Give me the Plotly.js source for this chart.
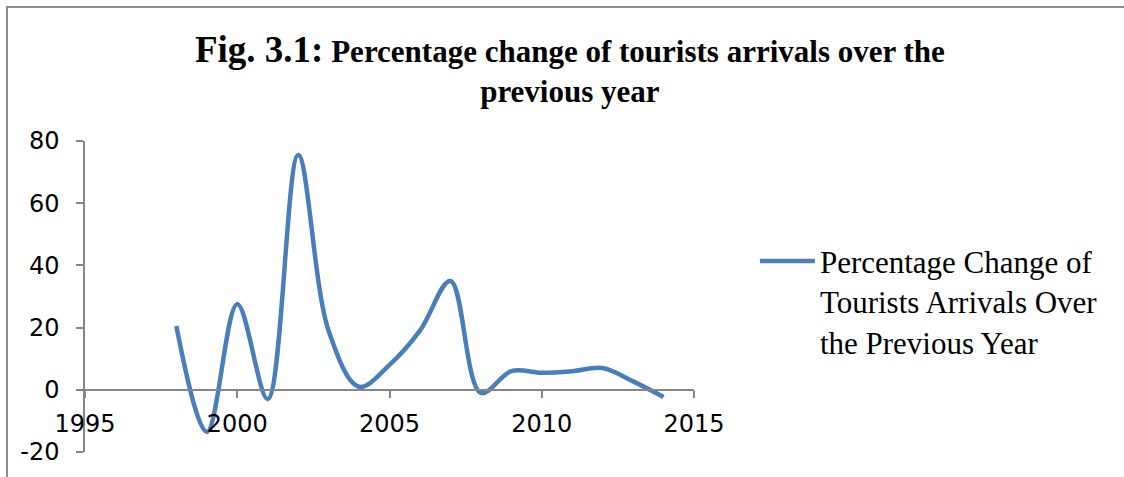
<!DOCTYPE html>
<html>
<head>
<meta charset="utf-8">
<script src="https://cdn.plot.ly/plotly-3.0.1.min.js"></script>
<style>
  html, body { margin: 0; padding: 0; background: #ffffff; }
  #chart { width: 1124px; height: 477px; }
</style>
</head>
<body>
<div id="chart"></div>
<script>
// Data
const years = [1998, 1999, 2000, 2001, 2002, 2003, 2004, 2005, 2006, 2007, 2008, 2009, 2010, 2011, 2012, 2013, 2014];
const pctChange = [20.5, -13.5, 27.5, -3, 75.5, 19, 1, 8, 19, 35, -1, 6, 5.5, 6, 7, 2.7, -2.3];
const seriesName = "Percentage Change of<br>Tourists Arrivals Over<br>the Previous Year";
const xTicks = [1995, 2000, 2005, 2010, 2015];
const yTicks = [-20, 0, 20, 40, 60, 80];
const titleLead = "Fig. 3.1:";
const titleRest = "Percentage change of tourists arrivals over the<br>previous year";

const axisGrey = "#868686";

const trace = {
  x: years,
  y: pctChange,
  type: "scatter",
  mode: "lines",
  name: seriesName,
  line: { color: "#4A7EBB", width: 4.5, shape: "spline", smoothing: 1 },
  hoverinfo: "x+y"
};

const layout = {
  width: 1124,
  height: 477,
  margin: { l: 85, r: 430, t: 141, b: 25, pad: 0 },
  paper_bgcolor: "#ffffff",
  plot_bgcolor: "#ffffff",
  showlegend: true,
  title: {
    text: "<span style='font-size:37px'>" + titleLead + "</span> " + titleRest,
    font: { family: "Liberation Serif, Times New Roman, serif", size: 31, color: "#000000", weight: "bold" },
    x: 0.507,
    xanchor: "center",
    xref: "container",
    y: 1 - 62 / 477,
    yanchor: "top",
    yref: "container"
  },
  xaxis: {
    range: [1995, 2015],
    tickvals: xTicks,
    ticktext: xTicks.map(String),
    showgrid: false,
    zeroline: false,
    showline: true,
    linecolor: axisGrey,
    linewidth: 1.5,
    ticks: "outside",
    ticklen: 7,
    tickwidth: 1.5,
    tickcolor: axisGrey,
    ticklabelstandoff: 6,
    anchor: "free",
    position: 0.2,
    tickfont: { family: "DejaVu Sans, sans-serif", size: 24, color: "#000000" },
    fixedrange: true
  },
  yaxis: {
    range: [-20, 80],
    tickvals: yTicks,
    ticktext: yTicks.map(String),
    showgrid: false,
    zeroline: false,
    showline: true,
    linecolor: axisGrey,
    linewidth: 1.5,
    ticks: "outside",
    ticklen: 7,
    tickwidth: 1.5,
    tickcolor: axisGrey,
    ticklabelstandoff: 12,
    tickfont: { family: "DejaVu Sans, sans-serif", size: 24, color: "#000000" },
    fixedrange: true
  },
  legend: {
    x: 1.1,
    xanchor: "left",
    y: 0.70,
    yanchor: "top",
    valign: "top",
    itemwidth: 55,
    tracegroupgap: 0,
    bgcolor: "rgba(0,0,0,0)",
    font: { family: "Liberation Serif, Times New Roman, serif", size: 31, color: "#000000" }
  },
  shapes: [
    {
      type: "rect",
      xref: "paper", yref: "paper",
      x0: (7 - 85) / 609, x1: (1140 - 85) / 609,
      y0: (452 - 500) / 311, y1: (452 - 7) / 311,
      line: { color: "#8a8a8a", width: 2 },
      fillcolor: "rgba(0,0,0,0)",
      layer: "below"
    }
  ]
};

Plotly.newPlot("chart", [trace], layout, { displayModeBar: false, staticPlot: false });
</script>
</body>
</html>
